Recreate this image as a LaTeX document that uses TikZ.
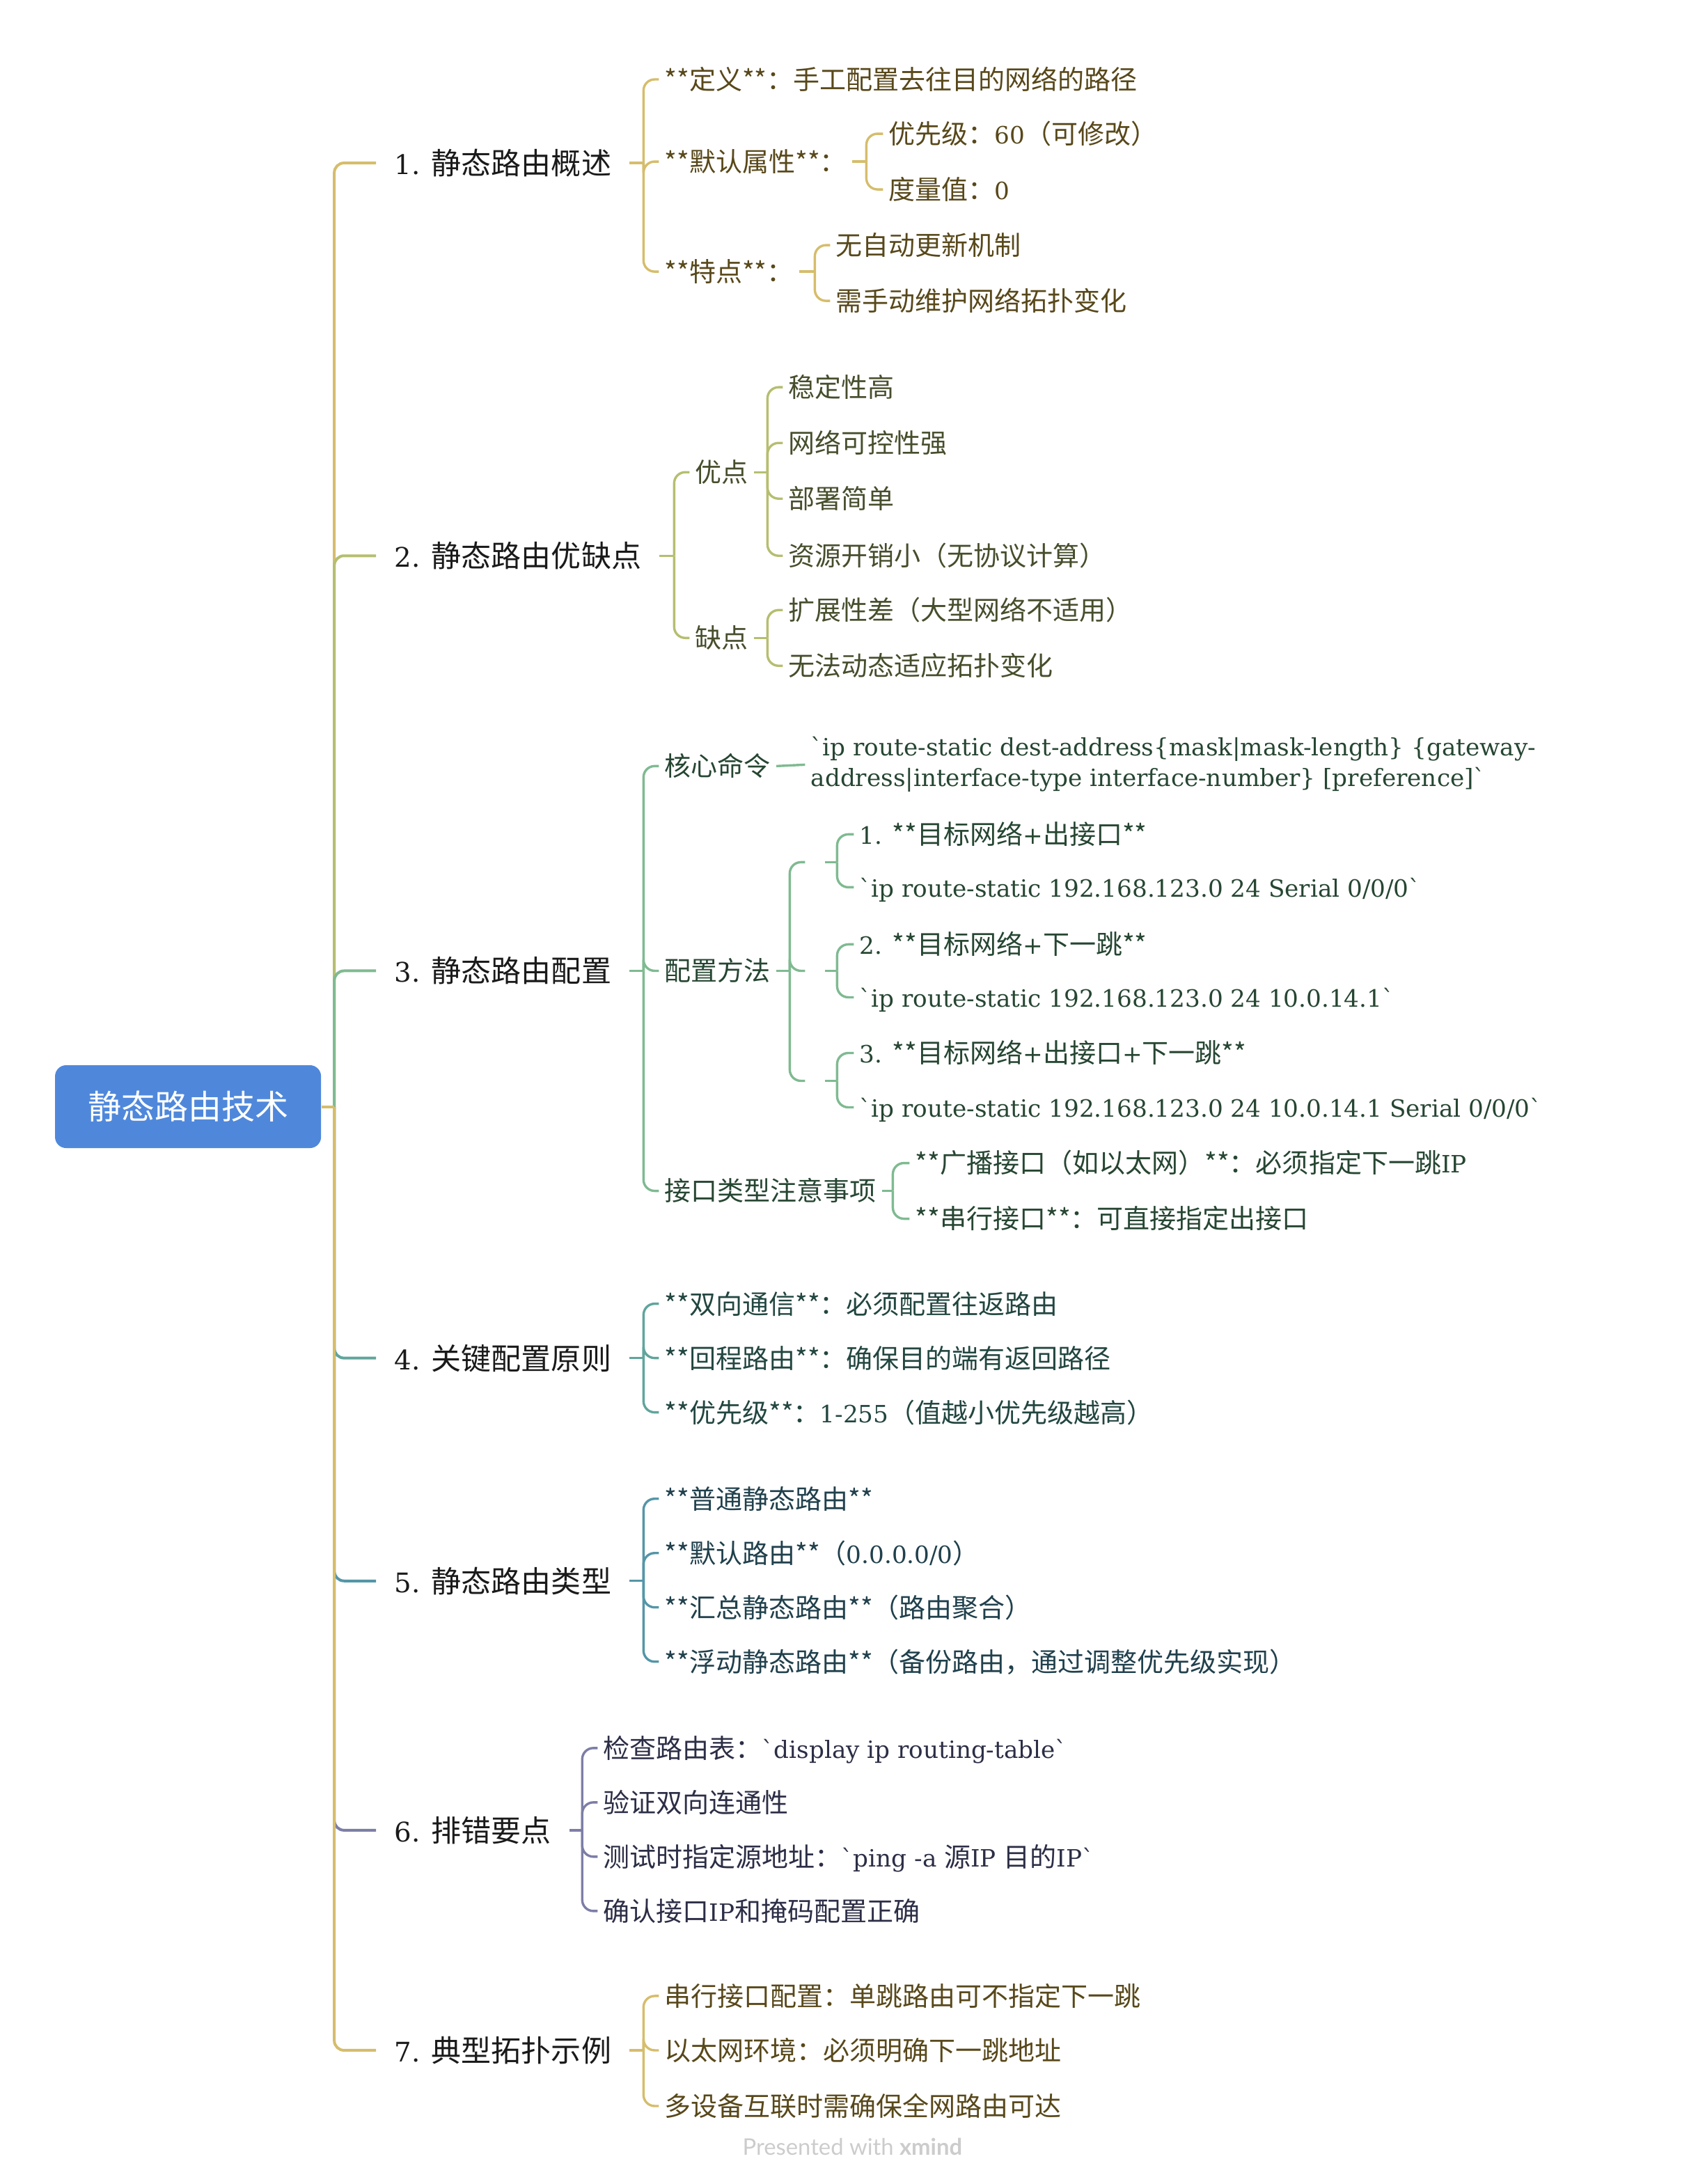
\documentclass[tikz,border=0pt]{standalone}
\usepackage{fontspec}
\setmainfont{Noto Sans CJK SC}
\newfontfamily\latserif{DejaVu Serif}[Scale=0.9]
\newfontfamily\footfont{Lato}
\newcommand{\lat}[1]{{\latserif #1}}
\usetikzlibrary{positioning}
\definecolor{rootblue}{RGB}{79,136,219}
\definecolor{goldln}{RGB}{214,189,108}
\definecolor{oliveln}{RGB}{182,190,112}
\definecolor{greenln}{RGB}{127,186,145}
\definecolor{tealln}{RGB}{96,165,156}
\definecolor{blueln}{RGB}{84,150,168}
\definecolor{purpleln}{RGB}{125,126,166}
\definecolor{goldtx}{RGB}{88,72,26}
\definecolor{olivetx}{RGB}{70,78,44}
\definecolor{greentx}{RGB}{38,70,50}
\definecolor{tealtx}{RGB}{34,70,64}
\definecolor{bluetx}{RGB}{32,64,76}
\definecolor{purpletx}{RGB}{44,46,70}
\definecolor{lbldark}{RGB}{26,26,26}
\definecolor{footgray}{RGB}{204,204,204}
\tikzset{
    rootbox/.style={rectangle, rounded corners=8pt, fill=rootblue, text=white, minimum width=191pt, minimum height=59.5pt, inner sep=0pt, font=\fontsize{24}{28}\selectfont},
    seclbl/.style={anchor=west, inner xsep=13pt, inner ysep=0pt, text height=19pt, text depth=2.6pt, text=lbldark, font=\fontsize{21.5}{26}\selectfont},
    leaf/.style={anchor=west, inner xsep=4pt, inner ysep=0pt, text height=16.7pt, text depth=2.3pt, text=#1, font=\fontsize{19}{23}\selectfont},
    cmdleaf/.style={anchor=west, inner xsep=4pt, inner ysep=0pt, align=left, text=#1, font=\fontsize{19}{22}\selectfont},
    blank/.style={anchor=west, inner sep=0pt, minimum width=14pt, minimum height=10pt},
    mainln/.style={line width=2pt, draw=#1, rounded corners=7pt},
    subln/.style={line width=1.7pt, draw=#1, rounded corners=8pt},
    footlbl/.style={text=footgray, font=\footfont\fontsize{16.4}{19}\selectfont}
}
\begin{document}
\begin{tikzpicture}[x=1pt, y=-1pt]
\useasboundingbox (0,0) rectangle (1224,1568);
\node[rootbox] (root) at (135, 794.5) {静态路由技术};
\coordinate (spine) at (240, 794.5);

\node[seclbl] (ov)  at (270, 117)  {\lat{1. }静态路由概述};
\node[seclbl] (pc)  at (270, 399)  {\lat{2. }静态路由优缺点};
\node[seclbl] (cfg) at (270, 697)  {\lat{3. }静态路由配置};
\node[seclbl] (key) at (270, 975)  {\lat{4. }关键配置原则};
\node[seclbl] (typ) at (270, 1135) {\lat{5. }静态路由类型};
\node[seclbl] (dbg) at (270, 1314) {\lat{6. }排错要点};
\node[seclbl] (topo) at (270, 1472) {\lat{7. }典型拓扑示例};

% 1
\node[leaf=goldtx] (ovdef)  at (473, 57)  {**定义**：手工配置去往目的网络的路径};
\node[leaf=goldtx] (ovattr) at (473, 116) {**默认属性**：};
\node[leaf=goldtx] (ovfeat) at (473, 195) {**特点**：};
\node[leaf=goldtx] (ovprio)   at (634, 96)  {优先级：\lat{60}（可修改）};
\node[leaf=goldtx] (ovmetric) at (634, 136) {度量值：\lat{0}};
\node[leaf=goldtx] (ovnoupd)  at (596, 176) {无自动更新机制};
\node[leaf=goldtx] (ovmanual) at (596, 216) {需手动维护网络拓扑变化};
\coordinate (ov-j)     at (462, 117);
\coordinate (ovattr-j) at (622, 116);
\coordinate (ovfeat-j) at (585, 195);

% 2
\node[leaf=olivetx] (pro) at (495, 339) {优点};
\node[leaf=olivetx] (con) at (495, 458) {缺点};
\node[leaf=olivetx] (pro1) at (562, 278) {稳定性高};
\node[leaf=olivetx] (pro2) at (562, 318) {网络可控性强};
\node[leaf=olivetx] (pro3) at (562, 358) {部署简单};
\node[leaf=olivetx] (pro4) at (562, 399) {资源开销小（无协议计算）};
\node[leaf=olivetx] (con1) at (562, 438) {扩展性差（大型网络不适用）};
\node[leaf=olivetx] (con2) at (562, 478) {无法动态适应拓扑变化};
\coordinate (pc-j)  at (484, 399);
\coordinate (pro-j) at (551, 339);
\coordinate (con-j) at (551, 458);

% 3
\node[leaf=greentx] (cmd)    at (473, 550) {核心命令};
\node[leaf=greentx] (method) at (473, 697) {配置方法};
\node[leaf=greentx] (iftype) at (473, 855) {接口类型注意事项};
\node[cmdleaf=greentx] (cmdtxt) at (578, 549) {\lat{`ip route-static dest-address\{mask|mask-length\} \{gateway-}\\\lat{address|interface-type interface-number\} [preference]`}};
\node[blank] (m1) at (578, 619) {};
\node[blank] (m2) at (578, 697) {};
\node[blank] (m3) at (578, 776) {};
\node[leaf=greentx] (m1a) at (613, 599) {\lat{1. }**目标网络\lat{+}出接口**};
\node[leaf=greentx] (m1b) at (613, 637) {\lat{`ip route-static 192.168.123.0 24 Serial 0/0/0`}};
\node[leaf=greentx] (m2a) at (613, 678) {\lat{2. }**目标网络\lat{+}下一跳**};
\node[leaf=greentx] (m2b) at (613, 716) {\lat{`ip route-static 192.168.123.0 24 10.0.14.1`}};
\node[leaf=greentx] (m3a) at (613, 756) {\lat{3. }**目标网络\lat{+}出接口\lat{+}下一跳**};
\node[leaf=greentx] (m3b) at (613, 795) {\lat{`ip route-static 192.168.123.0 24 10.0.14.1 Serial 0/0/0`}};
\node[leaf=greentx] (if1) at (653, 835) {**广播接口（如以太网）**：必须指定下一跳\lat{IP}};
\node[leaf=greentx] (if2) at (653, 875) {**串行接口**：可直接指定出接口};
\coordinate (cfg-j)    at (462, 697);
\coordinate (method-j) at (567, 697);
\coordinate (m1-j)     at (601, 619);
\coordinate (m2-j)     at (601, 697);
\coordinate (m3-j)     at (601, 776);
\coordinate (iftype-j) at (641, 855);

% 4
\node[leaf=tealtx] (key1) at (473, 936)  {**双向通信**：必须配置往返路由};
\node[leaf=tealtx] (key2) at (473, 975)  {**回程路由**：确保目的端有返回路径};
\node[leaf=tealtx] (key3) at (473, 1014) {**优先级**：\lat{1-255}（值越小优先级越高）};
\coordinate (key-j) at (462, 975);

% 5
\node[leaf=bluetx] (typ1) at (473, 1076) {**普通静态路由**};
\node[leaf=bluetx] (typ2) at (473, 1115) {**默认路由**（\lat{0.0.0.0/0}）};
\node[leaf=bluetx] (typ3) at (473, 1154) {**汇总静态路由**（路由聚合）};
\node[leaf=bluetx] (typ4) at (473, 1193) {**浮动静态路由**（备份路由，通过调整优先级实现）};
\coordinate (typ-j) at (462, 1135);

% 6
\node[leaf=purpletx] (dbg1) at (429, 1255) {检查路由表：\lat{`display ip routing-table`}};
\node[leaf=purpletx] (dbg2) at (429, 1294) {验证双向连通性};
\node[leaf=purpletx] (dbg3) at (429, 1333) {测试时指定源地址：\lat{`ping -a }源\lat{IP }目的\lat{IP`}};
\node[leaf=purpletx] (dbg4) at (429, 1372) {确认接口\lat{IP}和掩码配置正确};
\coordinate (dbg-j) at (418, 1314);

% 7
\node[leaf=goldtx] (topo1) at (473, 1433) {串行接口配置：单跳路由可不指定下一跳};
\node[leaf=goldtx] (topo2) at (473, 1472) {以太网环境：必须明确下一跳地址};
\node[leaf=goldtx] (topo3) at (473, 1512) {多设备互联时需确保全网路由可达};
\coordinate (topo-j) at (462, 1472);

\node[footlbl] (foot) at (612, 1541) {Presented with \textbf{xmind}};

% connectors
\foreach \s/\c in {ov/goldln, pc/oliveln, cfg/greenln, key/tealln, typ/blueln, dbg/purpleln, topo/goldln}
    \draw[mainln=\c] (spine) |- (\s.west);
\draw[mainln=goldln] (root.east) -- (spine);

\draw[subln=goldln] (ov.east) -- (ov-j);
\foreach \c in {ovdef, ovattr, ovfeat} \draw[subln=goldln] (ov-j) |- (\c.west);
\draw[subln=goldln] (ovattr.east) -- (ovattr-j);
\foreach \c in {ovprio, ovmetric} \draw[subln=goldln] (ovattr-j) |- (\c.west);
\draw[subln=goldln] (ovfeat.east) -- (ovfeat-j);
\foreach \c in {ovnoupd, ovmanual} \draw[subln=goldln] (ovfeat-j) |- (\c.west);

\draw[subln=oliveln] (pc.east) -- (pc-j);
\foreach \c in {pro, con} \draw[subln=oliveln] (pc-j) |- (\c.west);
\draw[subln=oliveln] (pro.east) -- (pro-j);
\foreach \c in {pro1, pro2, pro3, pro4} \draw[subln=oliveln] (pro-j) |- (\c.west);
\draw[subln=oliveln] (con.east) -- (con-j);
\foreach \c in {con1, con2} \draw[subln=oliveln] (con-j) |- (\c.west);

\draw[subln=greenln] (cfg.east) -- (cfg-j);
\foreach \c in {cmd, method, iftype} \draw[subln=greenln] (cfg-j) |- (\c.west);
\draw[subln=greenln] (cmd.east) -- (cmdtxt.west);
\draw[subln=greenln] (method.east) -- (method-j);
\foreach \c in {m1, m2, m3} \draw[subln=greenln] (method-j) |- (\c.west);
\foreach \m in {m1, m2, m3} {
    \draw[subln=greenln] (\m.east) -- (\m-j);
    \draw[subln=greenln] (\m-j) |- (\m a.west);
    \draw[subln=greenln] (\m-j) |- (\m b.west);
}
\draw[subln=greenln] (iftype.east) -- (iftype-j);
\foreach \c in {if1, if2} \draw[subln=greenln] (iftype-j) |- (\c.west);

\draw[subln=tealln] (key.east) -- (key-j);
\foreach \c in {key1, key2, key3} \draw[subln=tealln] (key-j) |- (\c.west);

\draw[subln=blueln] (typ.east) -- (typ-j);
\foreach \c in {typ1, typ2, typ3, typ4} \draw[subln=blueln] (typ-j) |- (\c.west);

\draw[subln=purpleln] (dbg.east) -- (dbg-j);
\foreach \c in {dbg1, dbg2, dbg3, dbg4} \draw[subln=purpleln] (dbg-j) |- (\c.west);

\draw[subln=goldln] (topo.east) -- (topo-j);
\foreach \c in {topo1, topo2, topo3} \draw[subln=goldln] (topo-j) |- (\c.west);
\end{tikzpicture}
\end{document}
